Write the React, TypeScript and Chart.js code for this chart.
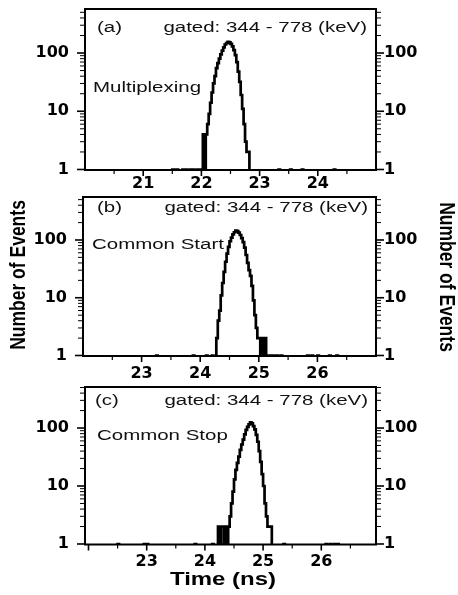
import { useEffect, useRef } from 'react';
import { Chart, registerables } from 'chart.js';

Chart.register(...registerables);

// ---------- data ----------
const binWidth = 0.025; // ns per histogram bin
const zeroLevel = 0.5; // empty bins are drawn below the log axis floor

// (a) Multiplexing
const peakStartA = 22.025;
const countsA = [4, 0, 4, 6, 9, 14, 21, 30, 40, 55, 67, 80, 95, 110, 125, 140, 148, 155, 152, 143, 130, 112, 92, 70, 48, 32, 19, 11, 6, 3, 2, 2];
const tailA = [21.5, 21.525, 21.575, 21.675, 21.7, 21.725, 21.8, 21.825, 21.85, 21.925, 21.95, 21.975, 23.325, 23.525, 23.725, 24.275];
const xTicksA = [21, 22, 23, 24];

// (b) Common Start
const peakStartB = 24.275;
const countsB = [2, 4, 6, 11, 18, 28, 42, 58, 76, 95, 110, 125, 136, 145, 142, 134, 122, 108, 92, 74, 55, 40, 30, 24, 16, 9, 5, 3, 2, 2, 0, 2, 0, 2];
const tailB = [23.25, 23.875, 24.1, 24.2, 25.15, 25.2, 25.25, 25.3, 25.375, 25.825, 25.9, 26.0, 26.2, 26.325];
const xTicksB = [23, 24, 25, 26];

// (c) Common Stop
const peakStartC = 24.225;
const countsC = [2, 0, 2, 2, 0, 2, 1, 2, 3, 5, 8, 13, 19, 25, 32, 42, 52, 63, 78, 93, 105, 116, 125, 120, 108, 95, 76, 58, 40, 26, 16, 10, 5, 3, 2, 2, 2];
const tailC = [22.5, 22.95, 23.0, 23.825, 24.125, 25.35, 26.075, 26.15, 26.225, 26.275];
const xTicksC = [23, 24, 25, 26];

const yTickValues = [1, 10, 100];
const gateLabel = 'gated: 344 - 778 (keV)';
const yTitle = 'Number of Events';
const xTitle = 'Time (ns)';

// ---------- helpers ----------
function buildPoints(start: number, counts: number[], tails: number[], xMin: number, xMax: number) {
  const bins = new Map<number, number>();
  counts.forEach((c, i) => bins.set(Math.round((start + i * binWidth) / binWidth), c));
  tails.forEach((t) => bins.set(Math.round(t / binWidth), 1));
  const keys = [...bins.keys()].sort((a, b) => a - b);
  const pts: { x: number; y: number }[] = [{ x: xMin, y: zeroLevel }];
  keys.forEach((k, i) => {
    const c = bins.get(k)!;
    pts.push({ x: k * binWidth, y: c > 0 ? c : zeroLevel });
    if (keys[i + 1] !== k + 1) pts.push({ x: (k + 1) * binWidth, y: zeroLevel });
  });
  pts.push({ x: xMax, y: zeroLevel });
  return pts;
}

type Note = { text: string; x: number; y: number; align: CanvasTextAlign };
type Title = { text: string; x: number; y: number; rot: number; sx: number; sy: number };

type PanelCfg = {
  top: number;
  height: number;
  padTop: number;
  xAxisH: number;
  leftW: number;
  rightW: number;
  xMin: number;
  xMax: number;
  yMax: number;
  xTicks: number[];
  xLabelPad: number;
  points: { x: number; y: number }[];
  notes: Note[];
  titles: Title[];
};

const W = 458;
const yMin = 0.98;
const tickFont = { family: '"DejaVu Sans"', size: 16, weight: 'bold' as const };
const noteFont = '15.5px "Liberation Sans", Arial, sans-serif';
const noteStretch = 1.32;
const titleFont = 'bold 17.5px "Liberation Sans", Arial, sans-serif';

function makePlugin(cfg: PanelCfg) {
  return {
    id: 'frameAndNotes',
    afterDraw(chart: any) {
      const { ctx, chartArea: a, scales } = chart;
      const line = (x1: number, y1: number, x2: number, y2: number) => {
        ctx.beginPath();
        ctx.moveTo(x1, y1);
        ctx.lineTo(x2, y2);
        ctx.stroke();
      };
      ctx.save();
      ctx.strokeStyle = '#000';
      // y ticks (log minors) on both sides
      const y = scales.y;
      for (let e = -1; e <= 3; e++) {
        for (let k = 1; k <= 9; k++) {
          const v = k * Math.pow(10, e);
          if (v < y.min || v > y.max) continue;
          const py = y.getPixelForValue(v);
          const major = k === 1;
          const len = major ? 8 : 5;
          ctx.lineWidth = major ? 1.6 : 1;
          line(a.left - len, py, a.left, py);
          line(a.right, py, a.right + len, py);
        }
      }
      // x ticks
      const x = scales.x;
      const first = Math.ceil(x.min * 2) / 2;
      for (let v = first; v <= x.max + 1e-9; v += 0.5) {
        const px = x.getPixelForValue(v);
        if (px < a.left + 2 || px > a.right - 2) continue;
        const major = Math.abs(v - Math.round(v)) < 1e-6;
        ctx.lineWidth = major ? 1.6 : 1.2;
        line(px, a.bottom, px, a.bottom + (major ? 6 : 4));
      }
      // frame
      ctx.lineWidth = 2;
      ctx.strokeRect(a.left, a.top, a.right - a.left, a.bottom - a.top);
      // notes
      ctx.fillStyle = '#111';
      ctx.font = noteFont;
      ctx.textBaseline = 'alphabetic';
      cfg.notes.forEach((n) => {
        ctx.save();
        ctx.translate(n.x, n.y);
        ctx.scale(noteStretch, 1);
        ctx.textAlign = n.align;
        ctx.fillText(n.text, 0, 0);
        ctx.restore();
      });
      // titles
      ctx.fillStyle = '#000';
      ctx.font = titleFont;
      ctx.textBaseline = 'middle';
      ctx.textAlign = 'center';
      cfg.titles.forEach((t) => {
        ctx.save();
        ctx.translate(t.x, t.y);
        ctx.rotate(t.rot);
        ctx.scale(t.sx, t.sy);
        ctx.fillText(t.text, 0, 0);
        ctx.restore();
      });
      ctx.restore();
    },
  };
}

const panels: PanelCfg[] = [
  {
    top: 0,
    height: 196,
    padTop: 9,
    xAxisH: 26,
    leftW: 85,
    rightW: 82,
    xMin: 20,
    xMax: 25,
    yMax: 570,
    xTicks: xTicksA,
    xLabelPad: 4.5,
    points: buildPoints(peakStartA, countsA, tailA, 20, 25),
    notes: [
      { text: '(a)', x: 97, y: 32, align: 'left' },
      { text: gateLabel, x: 367, y: 32, align: 'right' },
      { text: 'Multiplexing', x: 93, y: 91.5, align: 'left' },
    ],
    titles: [],
  },
  {
    top: 190,
    height: 195,
    padTop: 7,
    xAxisH: 29,
    leftW: 83,
    rightW: 82,
    xMin: 22,
    xMax: 27,
    yMax: 555,
    xTicks: xTicksB,
    xLabelPad: 8,
    points: buildPoints(peakStartB, countsB, tailB, 22, 27),
    notes: [
      { text: '(b)', x: 97, y: 22, align: 'left' },
      { text: gateLabel, x: 368, y: 22, align: 'right' },
      { text: 'Common Start', x: 92, y: 59, align: 'left' },
    ],
    titles: [
      { text: yTitle, x: 19, y: 85, rot: -Math.PI / 2, sx: 1, sy: 1.3 },
      { text: yTitle, x: 446, y: 87, rot: Math.PI / 2, sx: 1, sy: 1.3 },
    ],
  },
  {
    top: 385,
    height: 210,
    padTop: 2,
    xAxisH: 50.5,
    leftW: 85,
    rightW: 82,
    xMin: 21.94,
    xMax: 26.94,
    yMax: 510,
    xTicks: xTicksC,
    xLabelPad: 8,
    points: buildPoints(peakStartC, countsC, tailC, 21.94, 26.94),
    notes: [
      { text: '(c)', x: 95, y: 20, align: 'left' },
      { text: gateLabel, x: 368, y: 20, align: 'right' },
      { text: 'Common Stop', x: 97, y: 55, align: 'left' },
    ],
    titles: [{ text: xTitle, x: 223, y: 195, rot: 0, sx: 1.37, sy: 1 }],
  },
];

function Panel({ cfg }: { cfg: PanelCfg }) {
  const ref = useRef<HTMLCanvasElement>(null);
  useEffect(() => {
    const yAxis = (position: 'left' | 'right') => ({
      type: 'logarithmic' as const,
      position,
      min: yMin,
      max: cfg.yMax,
      grid: { display: false, drawTicks: false },
      border: { display: false },
      ticks: {
        font: tickFont,
        color: '#000',
        padding: position === 'left' ? 16 : 8,
        autoSkip: false,
        callback: (v: any) => String(v),
      },
      afterBuildTicks: (s: any) => {
        s.ticks = yTickValues.map((v) => ({ value: v }));
      },
      afterFit: (s: any) => {
        s.width = position === 'left' ? cfg.leftW : cfg.rightW;
        s.paddingTop = 0;
        s.paddingBottom = 0;
      },
    });
    const chart = new Chart(ref.current!, {
      type: 'line',
      data: {
        datasets: [
          {
            data: cfg.points,
            borderColor: '#000',
            borderWidth: 2.7,
            pointRadius: 0,
            stepped: true,
            fill: false,
            tension: 0,
            clip: 0,
          } as any,
        ],
      },
      plugins: [makePlugin(cfg)],
      options: {
        animation: false,
        responsive: false,
        devicePixelRatio: 1,
        events: [],
        layout: { padding: { top: cfg.padTop, left: 0, right: 0, bottom: 0 }, autoPadding: false },
        plugins: { legend: { display: false }, tooltip: { enabled: false }, title: { display: false } },
        scales: {
          x: {
            type: 'linear',
            min: cfg.xMin,
            max: cfg.xMax,
            grid: { display: false, drawTicks: false },
            border: { display: false },
            ticks: {
              font: tickFont,
              color: '#000',
              padding: cfg.xLabelPad,
              autoSkip: false,
              maxRotation: 0,
              callback: (v: any) => String(v),
            },
            afterBuildTicks: (s: any) => {
              s.ticks = cfg.xTicks.map((v) => ({ value: v }));
            },
            afterFit: (s: any) => {
              s.height = cfg.xAxisH;
              s.paddingLeft = 0;
              s.paddingRight = 0;
            },
          },
          y: yAxis('left'),
          y2: yAxis('right'),
        } as any,
      },
    });
    return () => chart.destroy();
  }, [cfg]);
  return (
    <canvas
      ref={ref}
      width={W}
      height={cfg.height}
      style={{ position: 'absolute', left: 0, top: cfg.top, width: W, height: cfg.height }}
    />
  );
}

export default function App() {
  return (
    <div style={{ position: 'absolute', left: 0, top: 0, width: W, height: 595, background: '#fff', overflow: 'hidden' }}>
      {panels.map((p, i) => (
        <Panel key={i} cfg={p} />
      ))}
    </div>
  );
}
